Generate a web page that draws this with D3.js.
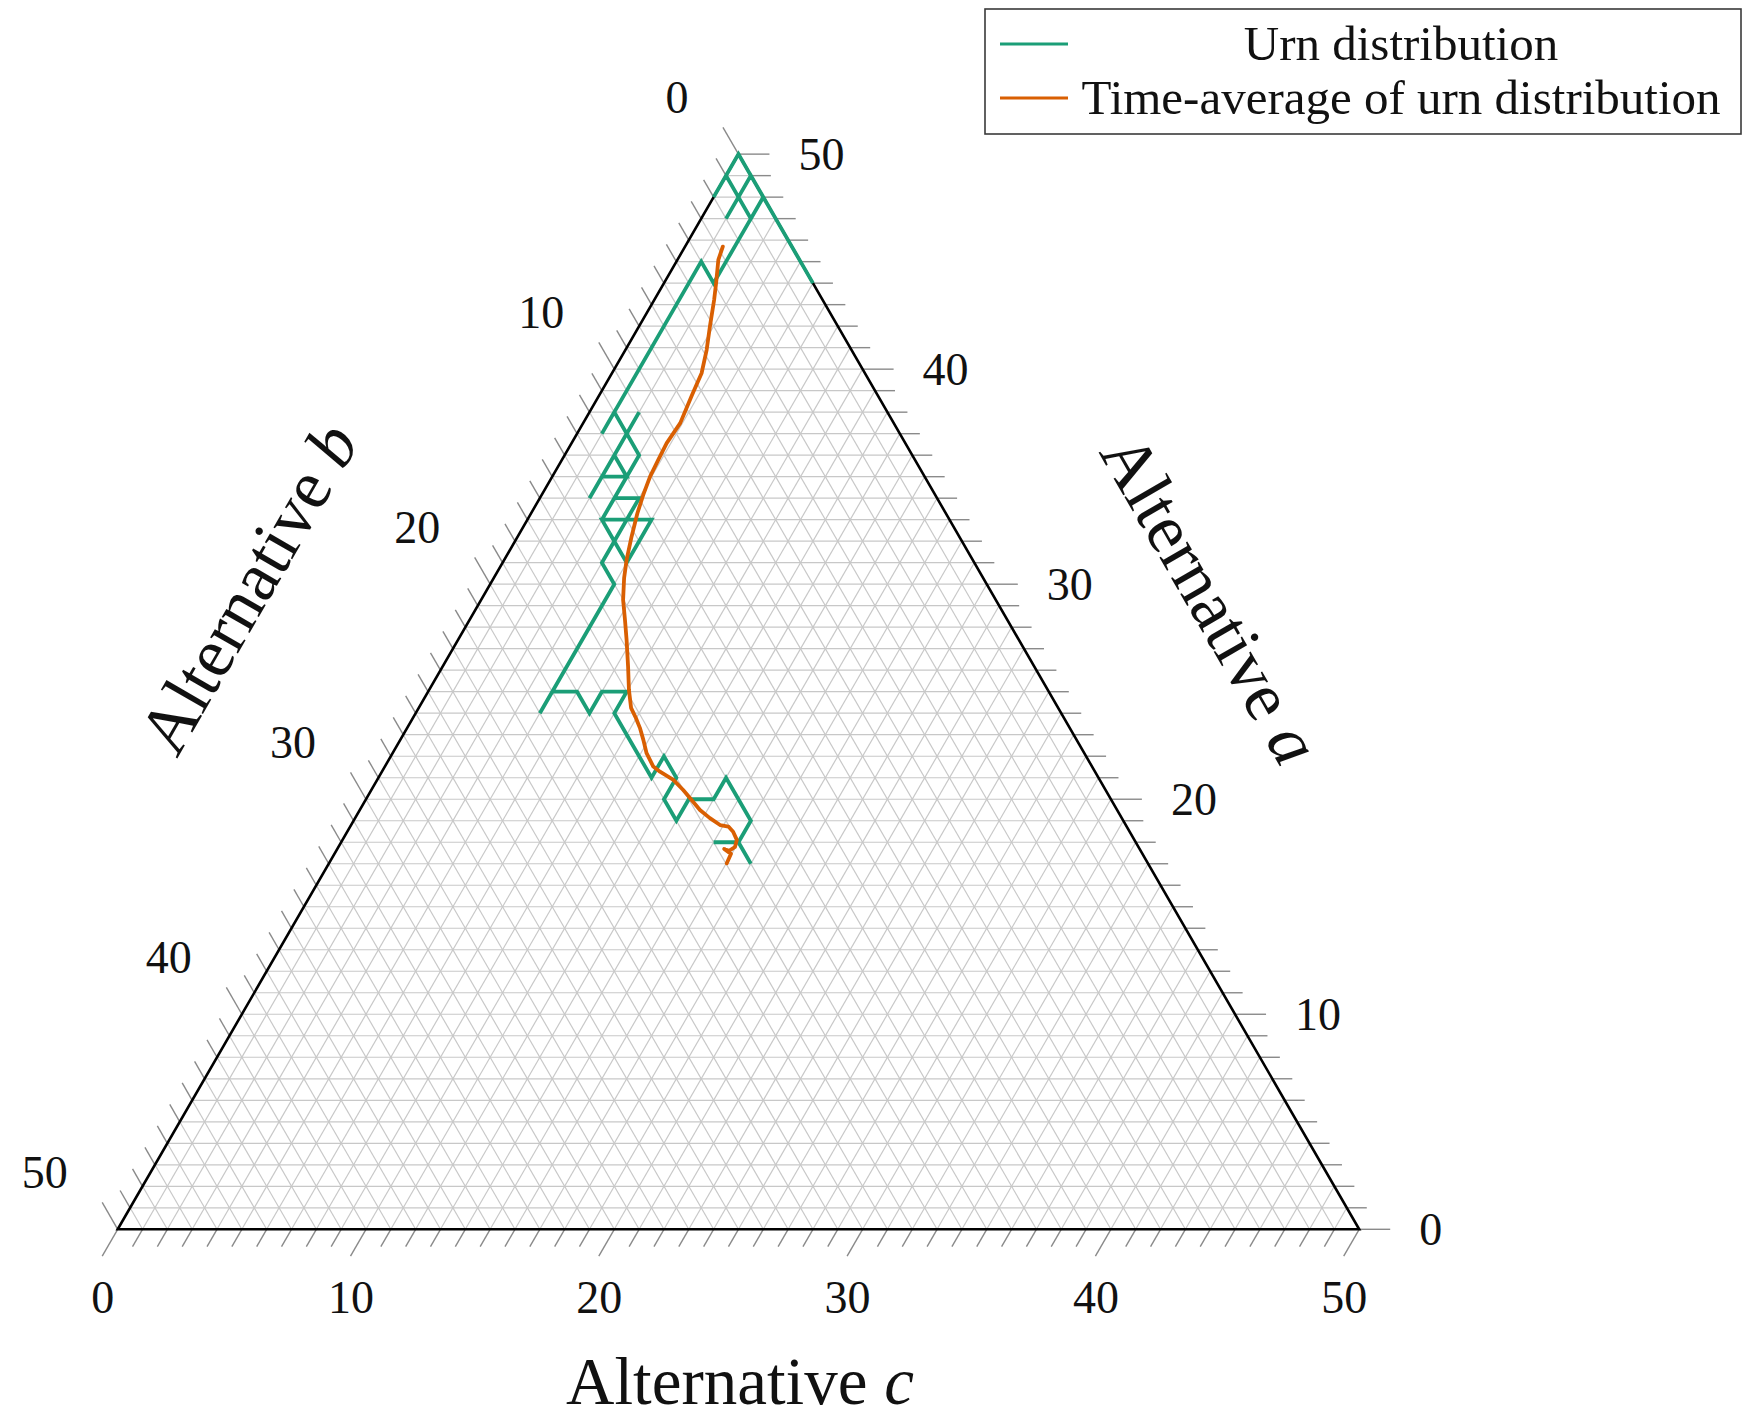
<!doctype html>
<html lang="en">
<head>
<meta charset="utf-8">
<title>Urn distribution - ternary plot</title>
<script src="https://cdn.jsdelivr.net/npm/d3@7"></script>
<style>
  body { margin: 0; background: #fff; }
  svg { display: block; font-family: "Liberation Serif", "Times New Roman", serif; }
</style>
</head>
<body>
<svg id="chart" width="1745" height="1419"></svg>
<script>
'use strict';

// number of balls of each alternative (50 in total), one entry per urn step
var urnA = [49,50,49,48,49,48,47,48,49,48,47,48,49,48,47,46,45,44,45,46,47,48,47,46,45,44,45,44,43,42,
            41,40,39,38,37,38,37,38,37,36,35,34,35,35,36,37,36,35,34,33,34,34,33,33,32,31,32,33,33,32,
            31,30,29,28,27,26,25,24,25,25,24,25,25,24,23,22,21,22,21,20,19,20,20,21,20,19,18,18,18,17];
var urnB = [0,0,1,2,1,1,1,0,0,1,2,1,0,0,0,0,0,0,0,0,0,0,1,2,3,4,4,5,6,7,
            8,9,10,11,12,11,11,10,11,12,13,14,13,12,12,11,11,12,13,14,13,12,13,12,13,14,14,14,13,14,
            15,15,16,17,18,19,20,21,20,19,19,18,17,18,18,18,18,17,17,18,18,17,16,15,15,15,16,17,16,16];
var urnC = [1,0,0,0,0,1,2,2,1,1,1,1,1,2,3,4,5,6,5,4,3,2,2,2,2,2,1,1,1,1,
            1,1,1,1,1,1,2,2,2,2,2,2,2,3,2,2,3,3,3,3,3,4,4,5,5,5,4,3,4,4,
            4,5,5,5,5,5,5,5,5,6,7,7,8,8,9,10,11,11,12,12,13,13,14,14,15,16,16,15,16,17];

// time-average of the urn distribution (a and c shares, in balls)
var avgA = [45.70,45.08,44.00,43.22,41.98,40.90,39.81,38.80,37.49,36.56,35.78,35.00,34.15,33.30,32.21,
            31.13,30.29,29.27,28.34,27.41,26.17,25.08,24.25,23.78,23.32,22.76,22.14,21.52,21.28,20.90,
            20.43,20.05,19.50,19.12,18.80,18.73,18.49,18.11,17.78,17.60,17.69,17.46,17.02];
var avgC = [1.52,1.65,2.10,2.41,2.86,3.27,3.61,3.73,3.91,3.83,3.88,3.94,4.09,4.28,4.59,
            4.93,5.25,5.72,6.26,6.79,7.47,8.05,8.55,8.98,9.37,9.79,10.23,10.81,11.20,11.93,
            12.56,13.03,13.70,14.29,14.86,15.23,15.54,15.88,15.97,15.82,15.58,15.97,16.02];

var tickLabels = [0, 10, 20, 30, 40, 50];
var legendLabels = ["Urn distribution", "Time-average of urn distribution"];

var TOTAL = 50;
var X0 = 117.7, SIDE = 1241.5, Y0 = 1229.3;
var H = SIDE * Math.sqrt(3) / 2;
var GREEN = "#1b9e77", ORANGE = "#d95f02";
var S60 = Math.sqrt(3) / 2;

var svg = d3.select("#chart");

// horizontal position runs with c + a/2, vertical with a
var uScale = d3.scaleLinear().domain([0, TOTAL]).range([X0, X0 + SIDE]);
var aScale = d3.scaleLinear().domain([0, TOTAL]).range([Y0, Y0 - H]);
function px(a, c) { return [uScale(c + a / 2), aScale(a)]; }

var line = d3.line();

// grid
var gridSegs = [];
d3.range(1, TOTAL).forEach(function(i) {
  gridSegs.push([px(i, 0), px(i, TOTAL - i)]);
  gridSegs.push([px(0, i), px(TOTAL - i, i)]);
  gridSegs.push([px(0, TOTAL - i), px(TOTAL - i, 0)]);
});
svg.append("g").selectAll("path").data(gridSegs).enter().append("path")
  .attr("d", line).attr("stroke", "#c8c8c8").attr("stroke-width", 1.2).attr("fill", "none");

// ticks
var tickSegs = [];
d3.range(0, TOTAL + 1).forEach(function(i) {
  var len = i % 10 === 0 ? 31 : 20;
  var p = px(i, TOTAL - i);
  tickSegs.push([p, [p[0] + len, p[1]]]);
  p = px(TOTAL - i, 0);
  tickSegs.push([p, [p[0] - len * 0.5, p[1] - len * S60]]);
  p = px(0, i);
  tickSegs.push([p, [p[0] - len * 0.5, p[1] + len * S60]]);
});
svg.append("g").selectAll("path").data(tickSegs).enter().append("path")
  .attr("d", line).attr("stroke", "#8a8a8a").attr("stroke-width", 1.4).attr("fill", "none");

// border
svg.append("path")
  .attr("d", line([px(0, 0), px(0, TOTAL), px(TOTAL, 0)]) + "Z")
  .attr("stroke", "#000").attr("stroke-width", 2.6).attr("fill", "none");

// tick labels
var lab = svg.append("g").attr("font-size", 46).attr("fill", "#111");
tickLabels.forEach(function(v) {
  var p = px(v, TOTAL - v);
  lab.append("text").attr("x", p[0] + 60).attr("y", p[1])
    .attr("dominant-baseline", "central").text(v);
  p = px(TOTAL - v, 0);
  lab.append("text").attr("x", p[0] - 50).attr("y", p[1] - 57)
    .attr("text-anchor", "end").attr("dominant-baseline", "central").text(v);
  p = px(0, v);
  lab.append("text").attr("x", p[0] - 15).attr("y", p[1] + 68)
    .attr("text-anchor", "middle").attr("dominant-baseline", "central").text(v);
});

// axis titles
function title(x, y, rot, letter, size) {
  var t = svg.append("text")
    .attr("transform", "translate(" + x + "," + y + ") rotate(" + rot + ")")
    .attr("text-anchor", "middle").attr("dominant-baseline", "central")
    .attr("font-size", size).attr("fill", "#111");
  t.append("tspan").text("Alternative ");
  t.append("tspan").attr("font-style", "italic").text(letter);
}
title(740, 1381, 0, "c", 67);
title(248, 588, -60, "b", 70);
title(1211, 599, 60, "a", 70);

// urn walk
var urnPts = urnA.map(function(a, i) { return px(a, urnC[i]); });
svg.append("path").attr("d", line(urnPts))
  .attr("stroke", GREEN).attr("stroke-width", 3.8).attr("fill", "none")
  .attr("stroke-linejoin", "miter");

// time average
var avgPts = avgA.map(function(a, i) { return px(a, avgC[i]); });
svg.append("path").attr("d", line(avgPts))
  .attr("stroke", ORANGE).attr("stroke-width", 3.8).attr("fill", "none")
  .attr("stroke-linejoin", "round").attr("stroke-linecap", "round");

// legend
var lg = svg.append("g");
lg.append("rect").attr("x", 985).attr("y", 9).attr("width", 756).attr("height", 125)
  .attr("fill", "#fff").attr("stroke", "#3a3a3a").attr("stroke-width", 1.6);
[GREEN, ORANGE].forEach(function(col, i) {
  var y = 43 + i * 54;
  lg.append("line").attr("x1", 1000).attr("x2", 1068).attr("y1", y + 1).attr("y2", y + 1)
    .attr("stroke", col).attr("stroke-width", 3.2);
  lg.append("text").attr("x", 1401).attr("y", y)
    .attr("text-anchor", "middle").attr("dominant-baseline", "central")
    .attr("font-size", 49).attr("fill", "#111").text(legendLabels[i]);
});
</script>
</body>
</html>
